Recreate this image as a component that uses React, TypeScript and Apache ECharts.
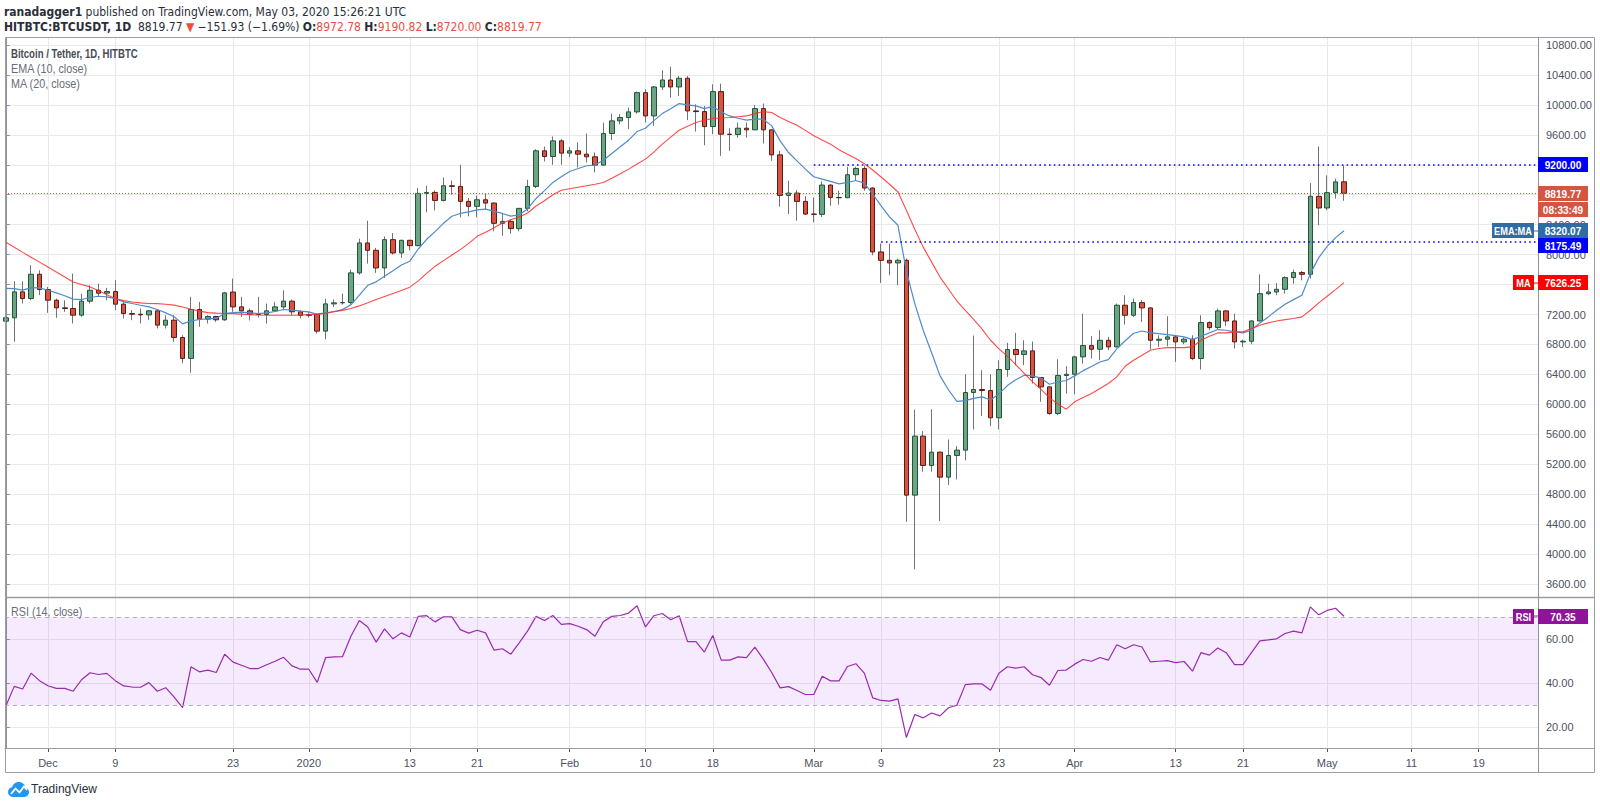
import React, { useEffect, useRef } from "react";
import * as echarts from "echarts";

const FONT = "'Liberation Sans', Arial, sans-serif";
const NARROW = "'Liberation Sans Narrow', 'DejaVu Sans Condensed', 'Liberation Sans', sans-serif";

// day index 0 = 2019-11-26 (one candle per calendar day)
const xTickDays = [5, 13, 27, 36, 48, 56, 67, 76, 84, 96, 104, 118, 127, 139, 147, 157, 167, 175];
const xTickLabels = ["Dec", "9", "23", "2020", "13", "21", "Feb", "10", "18", "Mar", "9", "23", "Apr", "13", "21", "May", "11", "19"];
const priceTicks = [3600, 4000, 4400, 4800, 5200, 5600, 6000, 6400, 6800, 7200, 7600, 8000, 8400, 8800, 9200, 9600, 10000, 10400, 10800];
// tick labels that are fully covered by the price-scale badges in the original are not drawn
const priceLabels = [3600, 4000, 4400, 4800, 5200, 5600, 6000, 6400, 6800, 7200, 8000, 8400, 9600, 10000, 10400, 10800];
const rsiTicks = [20, 40, 60];
const rsiBand = [30, 70];
const resistanceLevel = 9200;
const resistanceFromDay = 96;
const supportLevel = 8175.49;
const supportFromDay = 104;
const countdownText = "08:33:49";

// [open, high, low, close]
const candles: number[][] = [
  // Nov 26-30
  [7111, 7347, 7027, 7156], [7156, 7644, 6836, 7502], [7502, 7644, 7347, 7413], [7413, 7858, 7391, 7738], [7738, 7791, 7458, 7533],
  // Dec
  [7533, 7569, 7222, 7391], [7391, 7413, 7156, 7289], [7289, 7391, 7236, 7280], [7280, 7747, 7080, 7191], [7191, 7480, 7169, 7378],
  [7378, 7591, 7347, 7524], [7524, 7613, 7436, 7485], [7485, 7556, 7391, 7507], [7507, 7658, 7258, 7338], [7338, 7369, 7147, 7213],
  [7213, 7258, 7124, 7204], [7204, 7280, 7080, 7195], [7195, 7262, 7124, 7249], [7249, 7262, 7013, 7058], [7058, 7191, 7013, 7124],
  [7124, 7191, 6836, 6893], [6893, 6924, 6547, 6613], [6613, 7436, 6422, 7267], [7267, 7369, 7036, 7138], [7138, 7191, 7080, 7173],
  [7173, 7182, 7102, 7129], [7129, 7502, 7116, 7489], [7500, 7680, 7236, 7302], [7302, 7436, 7169, 7249], [7249, 7280, 7120, 7204],
  [7204, 7436, 7160, 7200], [7200, 7347, 7080, 7249], [7249, 7369, 7236, 7302], [7302, 7524, 7258, 7378], [7378, 7400, 7191, 7236],
  [7236, 7258, 7147, 7187],
  // Jan
  [7187, 7230, 7160, 7200], [7200, 7213, 6947, 6978], [6978, 7409, 6867, 7342], [7342, 7400, 7300, 7356], [7356, 7480, 7333, 7360],
  [7360, 7800, 7333, 7756], [7756, 8213, 7733, 8156], [8156, 8453, 7880, 8058], [8058, 8089, 7756, 7822], [7822, 8244, 7689, 8200],
  [8200, 8289, 8000, 8022], [8022, 8200, 7956, 8191], [8191, 8200, 8058, 8120], [8120, 8889, 8111, 8818], [8818, 8920, 8565, 8831],
  [8831, 8858, 8591, 8724], [8724, 9031, 8711, 8920], [8920, 8991, 8800, 8911], [8911, 9200, 8498, 8711], [8711, 8756, 8511, 8645],
  [8645, 8787, 8498, 8733], [8733, 8822, 8600, 8689], [8689, 8698, 8311, 8418], [8418, 8547, 8253, 8444], [8444, 8467, 8280, 8347],
  [8347, 8622, 8311, 8618], [8618, 9000, 8578, 8911], [8911, 9409, 8889, 9387], [9387, 9444, 9245, 9311], [9311, 9578, 9200, 9520],
  [9520, 9542, 9200, 9356],
  // Feb
  [9356, 9436, 9302, 9387], [9387, 9498, 9164, 9342], [9342, 9618, 9231, 9307], [9307, 9364, 9098, 9196], [9196, 9764, 9187, 9618],
  [9618, 9884, 9529, 9787], [9787, 9876, 9742, 9831], [9831, 9964, 9676, 9907], [9907, 10178, 9884, 10164], [10164, 10209, 9764, 9853],
  [9853, 10253, 9720, 10240], [10240, 10462, 10200, 10333], [10333, 10511, 10098, 10240], [10240, 10387, 10120, 10356], [10356, 10387, 9796, 9920],
  [9920, 10009, 9644, 9911], [9911, 9987, 9462, 9711], [9711, 10276, 9609, 10178], [10178, 10284, 9320, 9609], [9609, 9689, 9387, 9605],
  [9605, 9764, 9564, 9689], [9689, 9764, 9564, 9667], [9667, 10000, 9662, 9951], [9951, 10018, 9484, 9667], [9667, 9676, 9253, 9333],
  [9333, 9387, 8640, 8791], [8791, 8987, 8542, 8822], [8822, 8862, 8453, 8711], [8711, 8780, 8530, 8542],
  // Mar
  [8542, 8764, 8431, 8538], [8538, 8978, 8502, 8929], [8929, 8940, 8653, 8764], [8764, 8853, 8667, 8760], [8760, 9173, 8756, 9067],
  [9067, 9173, 8987, 9151], [9151, 9190, 8853, 8890], [8890, 8900, 7991, 8036], [8036, 8147, 7622, 7924], [7924, 8147, 7724, 7889],
  [7889, 7947, 7591, 7924], [7924, 7947, 4431, 4787], [4787, 5931, 3795, 5575], [5575, 5642, 5099, 5183], [5183, 5935, 5099, 5361],
  [5361, 5370, 4440, 5027], [5027, 5530, 4921, 5317], [5317, 5441, 4996, 5388], [5388, 6402, 5250, 6158], [6158, 6919, 5664, 6198],
  [6198, 6456, 5842, 6184], [6184, 6402, 5709, 5820], [5820, 6589, 5664, 6465], [6465, 6821, 6367, 6732], [6732, 6954, 6520, 6665],
  [6665, 6856, 6523, 6714], [6714, 6839, 6278, 6358], [6358, 6360, 6033, 6233], [6233, 6240, 5860, 5877], [5877, 6603, 5855, 6385],
  [6385, 6509, 6144, 6402],
  // Apr
  [6402, 6650, 6135, 6634], [6634, 7212, 6545, 6785], [6785, 6910, 6612, 6736], [6736, 6990, 6590, 6856], [6856, 6901, 6723, 6767],
  [6767, 7346, 6760, 7324], [7324, 7457, 7066, 7190], [7190, 7413, 7168, 7359], [7359, 7390, 7101, 7288], [7288, 7295, 6732, 6856],
  [6856, 6923, 6767, 6870], [6870, 7177, 6776, 6901], [6901, 6923, 6567, 6834], [6834, 6892, 6803, 6870], [6870, 6923, 6590, 6612],
  [6612, 7190, 6465, 7092], [7092, 7110, 6990, 7025], [7025, 7279, 6999, 7248], [7248, 7257, 7043, 7114], [7114, 7212, 6745, 6834],
  [6834, 6865, 6767, 6843], [6843, 7123, 6803, 7114], [7114, 7737, 7105, 7479], [7479, 7613, 7457, 7501], [7501, 7620, 7457, 7537],
  [7537, 7711, 7480, 7693], [7693, 7800, 7613, 7760], [7760, 7782, 7657, 7737], [7737, 8957, 7680, 8779], [8779, 9446, 8392, 8623],
  // May 1-3
  [8623, 9059, 8592, 8828], [8828, 9015, 8748, 8971.7], [8972.78, 9190.82, 8720.0, 8819.77],
];

const ema10: number[] = [
  7550, 7545, 7525, 7560, 7556,
  7524, 7489, 7450, 7405, 7400, 7427, 7444, 7436, 7413, 7369, 7347, 7324, 7302, 7267, 7222, 7169, 7075, 7116, 7133, 7142,
  7147, 7213, 7227, 7231, 7222, 7213, 7222, 7240, 7267, 7258, 7244,
  7236, 7204, 7222, 7240, 7265, 7330, 7460, 7590, 7636, 7711, 7785, 7862, 7912, 8075, 8205, 8308, 8418, 8512, 8550, 8572,
  8598, 8608, 8578, 8550, 8514, 8533, 8610, 8750, 8855, 8965, 9040,
  9111, 9150, 9187, 9196, 9262, 9351, 9440, 9529, 9644, 9689, 9790, 9884, 9950, 10018, 10000, 9987, 9950, 9980, 9905, 9853,
  9822, 9796, 9809, 9809, 9720, 9520, 9364, 9253, 9142,
  9040, 9009, 8978, 8945, 8964, 8990, 8955, 8810, 8650, 8505, 8392, 7780, 7346, 6990, 6690, 6380, 6195, 6040, 6050, 6080,
  6100, 6058, 6140, 6250, 6328, 6389, 6380, 6350, 6268, 6298, 6318,
  6380, 6450, 6505, 6565, 6598, 6740, 6850, 6950, 6980, 6954, 6945, 6932, 6919, 6901, 6865, 6910, 6954, 6999, 6990, 6968,
  6954, 6990, 7088, 7168, 7257, 7337, 7399, 7457, 7746, 7960,
  8111, 8227, 8320.07,
];

const ma20: number[] = [
  8164, 8099, 8030, 7965, 7900,
  7834, 7767, 7700, 7634, 7600, 7569, 7520, 7465, 7413, 7385, 7368, 7355, 7348, 7345, 7338, 7325, 7300, 7270, 7245, 7225,
  7218, 7214, 7212, 7205, 7198, 7193, 7190, 7190, 7190, 7190, 7192,
  7198, 7205, 7215, 7236, 7255, 7280, 7315, 7356, 7400, 7440, 7480, 7520, 7565, 7650, 7750, 7844, 7920, 7995, 8067, 8150,
  8244, 8300, 8360, 8422, 8465, 8502, 8556, 8650, 8720, 8800, 8860,
  8880, 8900, 8920, 8940, 8964, 9020, 9080, 9142, 9210, 9276, 9370, 9476, 9570, 9662, 9715, 9764, 9795, 9818, 9825, 9831,
  9842, 9853, 9884, 9911, 9898, 9831, 9780, 9729, 9660,
  9587, 9530, 9476, 9400, 9342, 9285, 9215, 9130, 9037, 8940, 8837, 8592, 8340, 8100, 7900, 7700, 7540, 7380, 7255, 7135,
  7005, 6856, 6740, 6645, 6530, 6415, 6300, 6200, 6090, 6005, 5935,
  6033, 6091, 6144, 6211, 6278, 6367, 6509, 6589, 6656, 6723, 6745, 6758, 6758, 6758, 6767, 6856, 6910, 6954, 6954, 6968,
  6968, 7012, 7057, 7088, 7114, 7132, 7146, 7168, 7257, 7355,
  7444, 7533, 7626.25,
];

const rsi14: number[] = [
  29.6, 38.5, 37.3, 44.5, 41.1,
  38.8, 37.6, 37.6, 36.3, 41.5, 44.7, 43.9, 44.4, 41.1, 38.7, 38.2, 38.1, 40.2, 36.3, 37.9, 33.6, 28.8, 47.4, 45.1, 45.9,
  44.8, 53.1, 49.5, 48.1, 46.6, 46.6, 48.3, 49.9, 51.7, 47.8, 46.3,
  46.3, 40.3, 51.6, 51.9, 52.0, 61.3, 68.4, 65.5, 58.6, 64.6, 60.1, 62.8, 60.9, 70.3, 70.6, 67.8, 70.1, 70.1, 64.3, 62.7,
  64.0, 62.8, 55.0, 55.6, 53.1, 58.3, 63.7, 70.3, 68.4, 70.7, 66.7,
  67.0, 65.8, 64.3, 61.3, 67.9, 70.3, 70.7, 71.8, 75.1, 65.5, 70.6, 71.6, 68.8, 70.6, 58.8, 58.8, 54.1, 61.6, 50.4, 50.4,
  51.9, 51.6, 56.3, 50.9, 44.8, 37.8, 38.4, 36.6, 34.8,
  34.8, 43.1, 41.0, 41.0, 47.5, 48.8, 44.5, 33.3, 32.1, 31.8, 32.8, 15.3, 25.7, 24.2, 26.4, 25.1, 28.8, 29.9, 39.3, 39.6,
  39.6, 36.7, 44.5, 47.4, 46.8, 47.4, 43.8, 42.5, 39.0, 45.7, 45.9,
  48.6, 50.7, 49.9, 51.6, 50.4, 57.4, 55.6, 57.4, 56.4, 49.6, 49.9, 50.2, 49.3, 49.8, 45.4, 53.8, 52.7, 55.9, 53.8, 48.4,
  48.4, 53.8, 59.2, 59.6, 60.1, 62.5, 63.6, 62.8, 74.6, 71.0,
  73.0, 74.0, 70.35,
];

const LOGO_D =
  "M5 16C2.2 16 0 13.8 0 11C0 8.6 1.7 6.6 4 6.1C4.6 3.2 7.2 1 10.3 1C13.6 1 16.3 3.5 16.7 6.7C18.6 7.2 20 9 20 11C20 13.8 17.8 16 15 16Z";
try {
  echarts.graphic.registerShape("tvlogo", (echarts.graphic as any).extendPath(LOGO_D, {}));
} catch (e) {
  /* ignore */
}

const X_MIN = -0.1;
const X_MAX = 182.05;
const GRID_C = "#e8e9eb";
const AXIS_C = "#8f939b";
const UP = "#6ba583";
const DOWN = "#d75442";
const UP_B = "#225437";
const DOWN_B = "#5b1a13";
const WICK = "#737375";
const EMA_C = "#4f8bc9";
const MA_C = "#ff2a2a";
const RSI_C = "#9a2ab0";
const LAST_C = "#d6553f";

const fmt2 = (v: number) => v.toFixed(2);
const dayLabel = (v: number) => {
  const k = xTickDays.indexOf(Math.round(v));
  return k >= 0 ? xTickLabels[k] : "";
};

export default function App() {
  const ref = useRef<HTMLDivElement>(null);

  useEffect(() => {
    if (!ref.current) return;
    const chart = echarts.init(ref.current, null, { renderer: "svg" });
    const n = candles.length;
    const last = candles[n - 1];
    const lastClose = last[3];

    const wickData = candles.map((c, i) => [i, c[0], c[3], c[2], c[1]]);
    const bodyData = candles.map((c, i) => [i, c[0], c[3], Math.min(c[0], c[3]), Math.max(c[0], c[3])]);

    const xAxisCommon = {
      type: "value",
      min: X_MIN,
      max: X_MAX,
      splitLine: { show: true, lineStyle: { color: GRID_C, width: 1 } },
    };

    const option: any = {
      animation: false,
      backgroundColor: "#ffffff",
      grid: [
        { left: 5, top: 38, width: 1533, height: 559 },
        { left: 5, top: 597, width: 1533, height: 151 },
      ],
      xAxis: [
        {
          ...xAxisCommon,
          gridIndex: 0,
          axisLine: { show: false },
          axisTick: { show: false, customValues: xTickDays },
          axisLabel: { show: false, customValues: xTickDays },
        },
        {
          ...xAxisCommon,
          gridIndex: 1,
          axisLine: { show: true, onZero: false, lineStyle: { color: AXIS_C } },
          axisTick: { show: true, length: 4, customValues: xTickDays, lineStyle: { color: "#50535e" } },
          axisLabel: {
            customValues: xTickDays,
            formatter: dayLabel,
            color: "#4c525e",
            fontSize: 11,
            fontFamily: FONT,
            margin: 9,
          },
        },
      ],
      yAxis: [
        {
          type: "value",
          gridIndex: 0,
          position: "right",
          min: 3426,
          max: 10894,
          axisLine: { show: true, lineStyle: { color: AXIS_C } },
          axisTick: { show: true, length: 4, customValues: priceTicks, lineStyle: { color: AXIS_C } },
          axisLabel: {
            customValues: priceLabels,
            formatter: fmt2,
            color: "#4c525e",
            fontSize: 11,
            fontFamily: FONT,
            margin: 8,
          },
          splitLine: { show: true, lineStyle: { color: GRID_C } },
        },
        {
          type: "value",
          gridIndex: 1,
          position: "right",
          min: 10.5,
          max: 79.1,
          axisLine: { show: true, lineStyle: { color: AXIS_C } },
          axisTick: { show: true, length: 4, customValues: rsiTicks, lineStyle: { color: AXIS_C } },
          axisLabel: {
            customValues: rsiTicks,
            formatter: fmt2,
            color: "#4c525e",
            fontSize: 11,
            fontFamily: FONT,
            margin: 8,
          },
          splitLine: { show: true, lineStyle: { color: GRID_C } },
        },
      ],
      series: [
        {
          type: "candlestick",
          name: "wicks",
          xAxisIndex: 0,
          yAxisIndex: 0,
          data: wickData,
          encode: { x: 0, y: [1, 2, 3, 4] },
          barWidth: 1,
          itemStyle: { color: WICK, color0: WICK, borderColor: WICK, borderColor0: WICK, borderWidth: 1 },
          silent: true,
        },
        {
          type: "candlestick",
          name: "bodies",
          xAxisIndex: 0,
          yAxisIndex: 0,
          data: bodyData,
          encode: { x: 0, y: [1, 2, 3, 4] },
          barWidth: 5,
          itemStyle: { color: UP, color0: DOWN, borderColor: UP_B, borderColor0: DOWN_B, borderWidth: 1 },
          silent: true,
          markLine: {
            silent: true,
            symbol: ["none", "none"],
            label: { show: false },
            animation: false,
            data: [
              [
                { coord: [X_MIN, lastClose], lineStyle: { color: LAST_C, type: [1, 2], width: 1 } },
                { coord: [X_MAX, lastClose] },
              ],
              [
                { coord: [resistanceFromDay, resistanceLevel], lineStyle: { color: "#0000ff", type: [1.6, 3.2], width: 1.6 } },
                { coord: [X_MAX, resistanceLevel] },
              ],
              [
                { coord: [supportFromDay, supportLevel], lineStyle: { color: "#0000ff", type: [1.6, 3.2], width: 1.6 } },
                { coord: [X_MAX, supportLevel] },
              ],
            ],
          },
        },
        {
          type: "line",
          name: "EMA (10, close)",
          xAxisIndex: 0,
          yAxisIndex: 0,
          data: ema10.map((v, i) => [i, v]),
          showSymbol: false,
          symbol: "none",
          lineStyle: { color: EMA_C, width: 1.2 },
          silent: true,
          z: 4,
        },
        {
          type: "line",
          name: "MA (20, close)",
          xAxisIndex: 0,
          yAxisIndex: 0,
          data: ma20.map((v, i) => [i, v]),
          showSymbol: false,
          symbol: "none",
          lineStyle: { color: MA_C, width: 1.1, opacity: 0.85 },
          silent: true,
          z: 4,
        },
        {
          type: "line",
          name: "RSI (14, close)",
          xAxisIndex: 1,
          yAxisIndex: 1,
          data: rsi14.map((v, i) => [i, v]),
          showSymbol: false,
          symbol: "none",
          lineStyle: { color: RSI_C, width: 1.2 },
          silent: true,
          z: 4,
          markArea: {
            silent: true,
            itemStyle: { color: "rgba(153, 21, 255, 0.09)" },
            data: [[{ yAxis: rsiBand[0] }, { yAxis: rsiBand[1] }]],
          },
          markLine: {
            silent: true,
            symbol: ["none", "none"],
            label: { show: false },
            lineStyle: { color: "#b4b0bb", type: [4, 4], width: 1 },
            data: [{ yAxis: rsiBand[1] }, { yAxis: rsiBand[0] }],
          },
        },
      ],
    };

    chart.setOption(option);

    const yP = (v: number) => chart.convertToPixel({ yAxisIndex: 0 } as any, v) as number;
    const yR = (v: number) => chart.convertToPixel({ yAxisIndex: 1 } as any, v) as number;

    const H = 15;
    const VX = 1538;
    const VW = 50;
    const badge = (x: number, y: number, w: number, bg: string, text: string, sx = 0.92) => [
      { type: "rect", z: 120, shape: { x, y: Math.round(y - H / 2), width: w, height: H }, style: { fill: bg } },
      {
        type: "text",
        z: 121,
        x: x + w / 2,
        y: Math.round(y - H / 2) + H / 2 + 0.5,
        scaleX: sx,
        style: { text, fill: "#ffffff", font: `bold 11px ${FONT}`, align: "center", verticalAlign: "middle" },
      },
    ];
    const tagged = (y: number, w: number, bg: string, tag: string, value: string) => [
      ...badge(VX - 4 - w, y, w, bg, tag, 0.84),
      { type: "rect", z: 120, shape: { x: VX - 4, y: Math.round(y) - 0.5, width: 4, height: 1 }, style: { fill: bg } },
      ...badge(VX, y, VW, bg, value),
    ];

    const lastY = yP(lastClose);
    const emaVal = ema10[ema10.length - 1];
    const maVal = ma20[ma20.length - 1];
    const rsiVal = rsi14[rsi14.length - 1];
    const emaY = yP(emaVal);
    const supY = Math.max(yP(supportLevel), emaY + H);

    const prevClose = candles[n - 2][3];
    const chg = lastClose - prevClose;
    const pct = (chg / prevClose) * 100;
    const minus = (v: number) => (v < 0 ? "\u2212" : "") + Math.abs(v).toFixed(2);

    const red = "#ee4e40";
    const header2 =
      `{s|HITBTC:BTCUSDT, 1D}  {v|${fmt2(lastClose)}} {r|\u25BC} {v|${minus(chg)} (${minus(pct)}%)} ` +
      `{k|O:}{r|${fmt2(last[0])}} {k|H:}{r|${fmt2(last[1])}} {k|L:}{r|${fmt2(last[2])}} {k|C:}{r|${fmt2(last[3])}}`;

    const legend = (y: number, text: string, bold: boolean, sx: number, fill: string) => ({
      type: "text",
      z: 130,
      x: 11,
      y,
      scaleX: sx,
      style: { text, font: `${bold ? "bold " : ""}12px ${FONT}`, fill, verticalAlign: "middle" },
    });

    const elements: any[] = [
      // header
      {
        type: "text",
        z: 130,
        x: 4,
        y: 12,
        style: {
          text: "{b|ranadagger1} {n|published on TradingView.com, May 03, 2020 15:26:21 UTC}",
          verticalAlign: "middle",
          rich: {
            b: { font: `bold 12px ${NARROW}`, fill: "#2a2e39" },
            n: { font: `12px ${NARROW}`, fill: "#2a2e39" },
          },
        },
      },
      {
        type: "text",
        z: 130,
        x: 4,
        y: 27,
        style: {
          text: header2,
          verticalAlign: "middle",
          rich: {
            s: { font: `bold 12px ${NARROW}`, fill: "#2a2e39" },
            v: { font: `12px ${NARROW}`, fill: "#2a2e39" },
            k: { font: `bold 12px ${NARROW}`, fill: "#2a2e39" },
            r: { font: `12px ${NARROW}`, fill: red },
          },
        },
      },
      // pane legends
      legend(54, "Bitcoin / Tether, 1D, HITBTC", true, 0.8, "#4a4d57"),
      legend(69, "EMA (10, close)", false, 0.9, "#6a6d78"),
      legend(84, "MA (20, close)", false, 0.9, "#6a6d78"),
      legend(612, "RSI (14, close)", false, 0.9, "#6a6d78"),
      // frame
      { type: "rect", z: 110, shape: { x: 5.5, y: 37.5, width: 1589, height: 735 }, style: { fill: "none", stroke: "#9a9da5", lineWidth: 1 } },
      { type: "line", z: 110, shape: { x1: 5, y1: 597.5, x2: 1594, y2: 597.5 }, style: { stroke: "#9a9da5", lineWidth: 1.5 } },
      { type: "line", z: 110, shape: { x1: 5, y1: 748.5, x2: 1594, y2: 748.5 }, style: { stroke: "#9a9da5", lineWidth: 1 } },
      { type: "line", z: 110, shape: { x1: 1538.5, y1: 37, x2: 1538.5, y2: 772 }, style: { stroke: "#8f939b", lineWidth: 1 } },
      // price scale badges
      ...badge(VX, yP(resistanceLevel), VW, "#0000ff", fmt2(resistanceLevel)),
      ...badge(VX, lastY, VW, LAST_C, fmt2(lastClose)),
      ...badge(VX, lastY + 16, VW, LAST_C, countdownText),
      ...tagged(emaY, 42, "#2e6da4", "EMA:MA", fmt2(emaVal)),
      ...badge(VX, supY, VW, "#0000ff", fmt2(supportLevel)),
      ...tagged(yP(maVal), 21, "#ff0000", "MA", fmt2(maVal)),
      ...tagged(yR(rsiVal), 21, "#8e1599", "RSI", fmt2(rsiVal)),
      // logo
      { type: "tvlogo", z: 130, x: 8, y: 781, scaleX: 1.05, scaleY: 1.0, style: { fill: "#2196f3" } },
      {
        type: "polyline",
        z: 131,
        shape: { points: [[11, 794], [15.5, 788.5], [19.5, 792.5], [24, 786.5], [27, 790]] },
        style: { stroke: "#ffffff", lineWidth: 1.8, fill: null },
      },
      { type: "text", z: 130, x: 31, y: 789, style: { text: "TradingView", font: `12px ${FONT}`, fill: "#2a2e39", verticalAlign: "middle" } },
    ];

    chart.setOption({ graphic: { elements } });

    return () => chart.dispose();
  }, []);

  return (
    <div
      ref={ref}
      style={{ position: "fixed", left: 0, top: 0, width: 1600, height: 805, background: "#ffffff" }}
    />
  );
}
